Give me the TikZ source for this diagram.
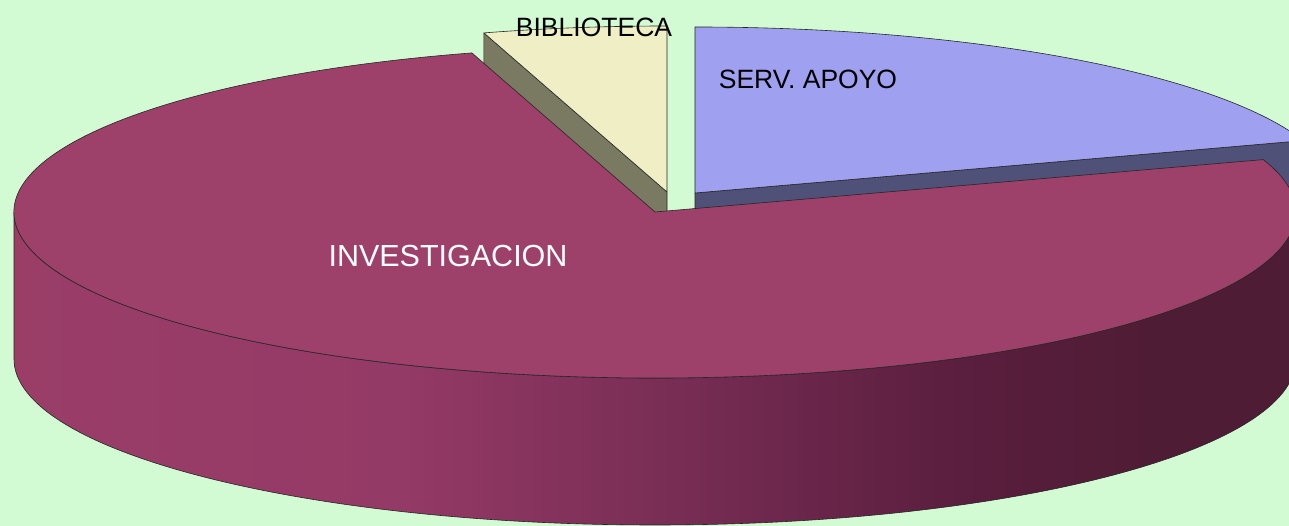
\documentclass[tikz,border=0pt]{standalone}
\usepackage{fontspec}
\setmainfont{Liberation Sans}
\usetikzlibrary{calc}
\definecolor{bgc}{HTML}{D2FBD4}
\definecolor{invtop}{HTML}{9E416A}
\definecolor{apoyotopc}{HTML}{A0A0F0}
\definecolor{apoyosidec}{HTML}{4F5179}
\definecolor{bibtopc}{HTML}{F0EEC4}
\definecolor{bibsidec}{HTML}{7A7A62}
\definecolor{sA}{HTML}{9A3E68}
\definecolor{sB}{HTML}{943A66}
\definecolor{sC}{HTML}{7A2E56}
\definecolor{sD}{HTML}{5A1E3E}
\definecolor{sE}{HTML}{4E1C34}
\pgfdeclarehorizontalshading{sideshade}{100bp}{color(0bp)=(sA); color(25bp)=(sA); color(40bp)=(sB); color(50bp)=(sC); color(62bp)=(sD); color(70bp)=(sE); color(100bp)=(sE)}
\tikzset{
  edge/.style={draw=black!85, line width=0.6pt, line join=round},
  lbl/.style={font=\fontsize{26.5}{26.5}\selectfont, inner sep=0pt},
  biglbl/.style={font=\fontsize{30.5}{30.5}\selectfont, inner sep=0pt}
}
\begin{document}
\begin{tikzpicture}[x=1pt,y=1pt]
\def\rx{641}
\def\ry{166}
\def\dd{147}
\def\aa{18.4}
\def\ab{106.6}
\useasboundingbox (0,0) rectangle (1289,526);
\fill[bgc] (0,0) rectangle (1289,526);
\clip (0,0) rectangle (1289,526);
\coordinate (O1) at (655,314);
\coordinate (O2) at (695,333);
\coordinate (O3) at (667,334);
% apoyo radial face
\coordinate (P2) at ($(O2)+({\rx*cos(\aa)},{\ry*sin(\aa)})$);
\draw[edge, fill=apoyosidec] (O2) -- (P2) -- ($(P2)+(0,-\dd)$) -- ($(O2)+(0,-\dd)$) -- cycle;
% apoyo top
\draw[edge, fill=apoyotopc] (O2) -- (P2) arc[start angle=\aa, end angle=90, x radius=\rx, y radius=\ry] -- cycle;
% biblioteca radial face
\coordinate (P3) at ($(O3)+({\rx*cos(\ab)},{\ry*sin(\ab)})$);
\draw[edge, fill=bibsidec] (O3) -- (P3) -- ($(P3)+(0,-\dd)$) -- ($(O3)+(0,-\dd)$) -- cycle;
% biblioteca top
\draw[edge, fill=bibtopc] (O3) -- ($(O3)+(0,\ry)$) arc[start angle=90, end angle=\ab, x radius=\rx, y radius=\ry] -- cycle;
% investigacion side
\coordinate (L1) at ($(O1)+(-\rx,0)$);
\shade[shading=sideshade] (L1) arc[start angle=180, end angle=360, x radius=\rx, y radius=\ry] -- ++(0,-\dd) arc[start angle=0, end angle=-180, x radius=\rx, y radius=\ry] -- cycle;
\draw[edge] (L1) arc[start angle=180, end angle=360, x radius=\rx, y radius=\ry] -- ++(0,-\dd) arc[start angle=0, end angle=-180, x radius=\rx, y radius=\ry] -- cycle;
% investigacion top
\coordinate (P1) at ($(O1)+({\rx*cos(\ab)},{\ry*sin(\ab)})$);
\draw[edge, fill=invtop] (O1) -- (P1) arc[start angle=\ab, end angle=360+\aa, x radius=\rx, y radius=\ry] -- cycle;
% labels
\node[lbl, text=black] (bib) at (594,499) {BIBLIOTECA};
\node[lbl, text=black] (apo) at (808,447) {SERV. APOYO};
\node[biglbl, text=white] (inv) at (448,270) {INVESTIGACION};
\end{tikzpicture}
\end{document}
